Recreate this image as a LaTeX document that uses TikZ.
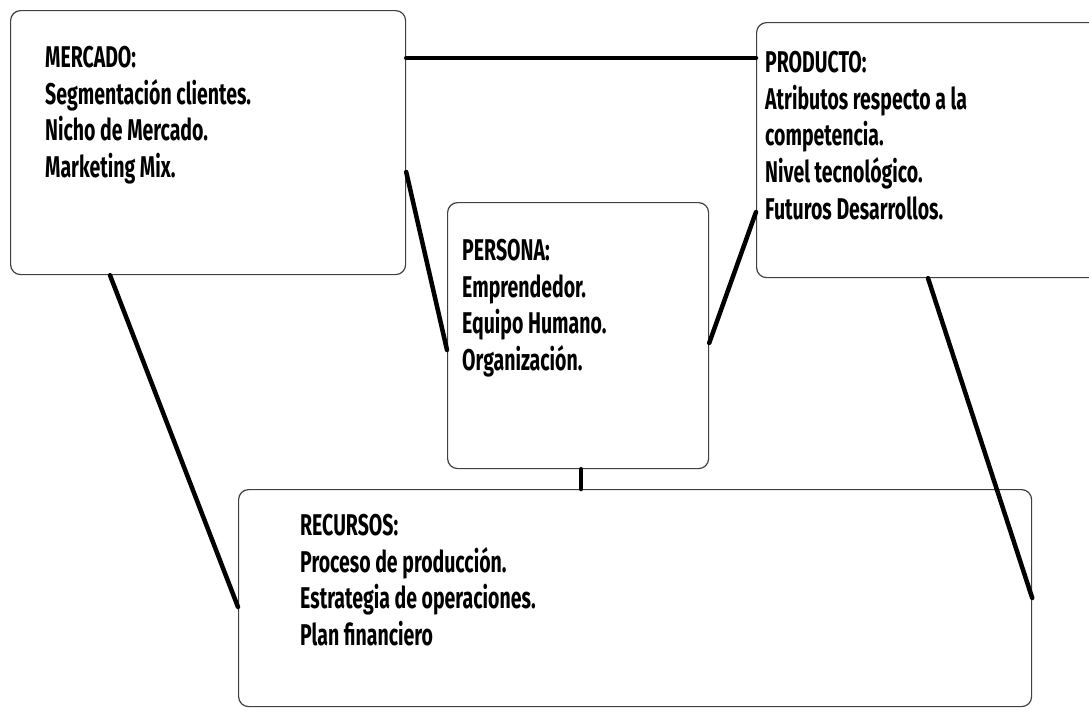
\documentclass[tikz,border=0pt]{standalone}
\usepackage{fontspec}
\usepackage{tikz}
\usetikzlibrary{positioning}
\newfontfamily\cajafont[FakeStretch=0.65]{Fira Sans}

\tikzset{
  caja/.style={draw=black!75, line width=1.2pt, rounded corners=10pt, anchor=north west, inner sep=0pt},
  texto/.style={anchor=north west, align=left, inner sep=0pt, font=\cajafont\bfseries\fontsize{30}{36.7}\selectfont},
  conector/.style={line width=4.5pt, line cap=round}
}

\begin{document}
\begin{tikzpicture}[x=1pt,y=-1pt]
\path[clip] (0,0) rectangle (1089,710);
\fill[white] (0,0) rectangle (1089,710);

\node[caja, minimum width=395pt, minimum height=264pt] (mercado) at (10,10) {};
\node[caja, minimum width=345pt, minimum height=255pt] (producto) at (756,22) {};
\node[caja, minimum width=261pt, minimum height=266pt] (persona) at (447,202) {};
\node[caja, minimum width=793pt, minimum height=217pt] (recursos) at (238,489) {};

\node[texto, below right=36pt and 35pt of mercado.north west] (mercado-txt) {MERCADO:\\Segmentación clientes.\\Nicho de Mercado.\\Marketing Mix.};
\node[texto, below right=29pt and 9pt of producto.north west] (producto-txt) {PRODUCTO:\\Atributos respecto a la\\competencia.\\Nivel tecnológico.\\Futuros Desarrollos.};
\node[texto, below right=37pt and 15pt of persona.north west] (persona-txt) {PERSONA:\\Emprendedor.\\Equipo Humano.\\Organización.};
\node[texto, below right=25pt and 62pt of recursos.north west] (recursos-txt) {RECURSOS:\\Proceso de producción.\\Estrategia de operaciones.\\Plan financiero};

\draw[conector] ([yshift=-48pt]mercado.north east) -- ([yshift=-36pt]producto.north west);
\draw[conector] ([yshift=-162pt]mercado.north east) -- ([yshift=-148pt]persona.north west);
\draw[conector] ([yshift=-190pt]producto.north west) -- ([yshift=-141pt]persona.north east);
\draw[conector] ([xshift=3pt]persona.south) -- ([xshift=3pt]persona.south |- recursos.north);
\draw[conector] ([xshift=100pt]mercado.south west) -- ([yshift=-118pt]recursos.north west);
\draw[conector] ([xshift=172pt]producto.south west) -- ([yshift=-109pt]recursos.north east);
\end{tikzpicture}
\end{document}
